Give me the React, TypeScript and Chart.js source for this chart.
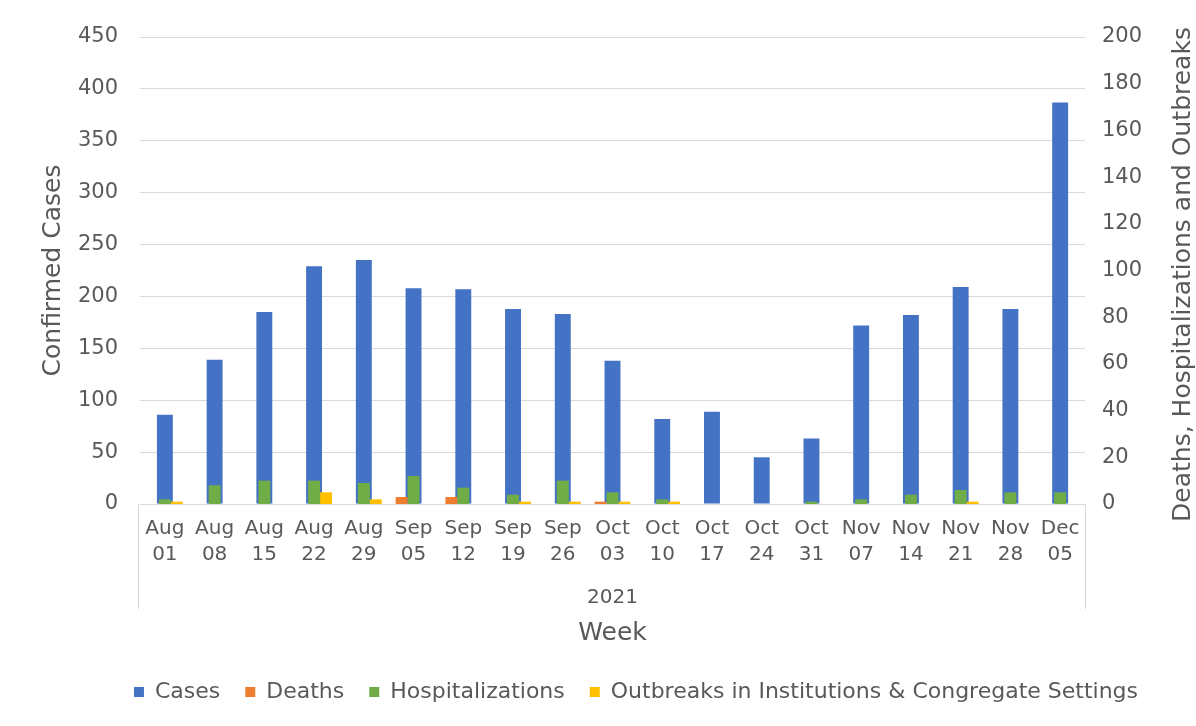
import React, { useEffect, useRef } from "react";
import { Chart, registerables } from "chart.js";

Chart.register(...registerables);

const weeks: string[][] = [
  ["Aug", "01"], ["Aug", "08"], ["Aug", "15"], ["Aug", "22"], ["Aug", "29"],
  ["Sep", "05"], ["Sep", "12"], ["Sep", "19"], ["Sep", "26"],
  ["Oct", "03"], ["Oct", "10"], ["Oct", "17"], ["Oct", "24"], ["Oct", "31"],
  ["Nov", "07"], ["Nov", "14"], ["Nov", "21"], ["Nov", "28"], ["Dec", "05"],
];
const cases = [86, 139, 185, 229, 235, 208, 207, 188, 183, 138, 82, 89, 45, 63, 172, 182, 209, 188, 387];
const deaths = [0, 0, 0, 0, 0, 3, 3, 0, 0, 1, 0, 0, 0, 0, 0, 0, 0, 0, 0];
const hospitalizations = [2, 8, 10, 10, 9, 12, 7, 4, 10, 5, 2, 0, 0, 1, 2, 4, 6, 5, 5];
const outbreaks = [1, 0, 0, 5, 2, 0, 0, 1, 1, 1, 1, 0, 0, 0, 0, 0, 1, 0, 0];

const seriesNames = ["Cases", "Deaths", "Hospitalizations", "Outbreaks in Institutions & Congregate Settings"];
const seriesColors = ["#4472C4", "#ED7D31", "#70AD47", "#FFC000"];
const yearLabel = "2021";
const xTitle = "Week";
const yLeftTitle = "Confirmed Cases";
const yRightTitle = "Deaths, Hospitalizations and Outbreaks";

const FONT = "'DejaVu Sans', 'Liberation Sans', sans-serif";
const TEXT = "#595959";
const GRID = "#d9d9d9";

const decorPlugin = {
  id: "decor",
  afterLayout(chart: any) {
    const lg = chart.legend;
    if (lg) {
      lg.left += 38;
      lg.right += 38;
    }
  },
  afterDraw(chart: any) {
    const { ctx, chartArea } = chart;
    ctx.save();
    ctx.strokeStyle = GRID;
    ctx.lineWidth = 1;
    [chartArea.left - 1.5, chartArea.right + 0.5].forEach((x: number) => {
      const px = Math.round(x - 0.5) + 0.5;
      ctx.beginPath();
      ctx.moveTo(px, chartArea.bottom);
      ctx.lineTo(px, chartArea.bottom + 105);
      ctx.stroke();
    });
    ctx.fillStyle = TEXT;
    ctx.textAlign = "center";
    ctx.textBaseline = "middle";
    ctx.font = `20px ${FONT}`;
    ctx.fillText(yearLabel, (chartArea.left + chartArea.right) / 2, chartArea.bottom + 94);
    ctx.translate(1183, (chartArea.top + chartArea.bottom) / 2 + 4);
    ctx.rotate(-Math.PI / 2);
    ctx.font = `25px ${FONT}`;
    ctx.fillText(yRightTitle, 0, 0);
    ctx.restore();
  },
};

export default function App() {
  const ref = useRef<HTMLCanvasElement | null>(null);

  useEffect(() => {
    if (!ref.current) return;
    const small = { yAxisID: "y1", categoryPercentage: 0.72, barPercentage: 1, order: 0 };
    const chart = new Chart(ref.current, {
      type: "bar",
      data: {
        labels: weeks,
        datasets: [
          {
            label: seriesNames[0],
            data: cases,
            backgroundColor: seriesColors[0],
            yAxisID: "y",
            grouped: false,
            categoryPercentage: 1,
            barPercentage: 0.32,
            order: 5,
          },
          { ...small, label: seriesNames[1], data: deaths, backgroundColor: seriesColors[1] },
          { ...small, label: seriesNames[2], data: hospitalizations, backgroundColor: seriesColors[2] },
          { ...small, label: seriesNames[3], data: outbreaks, backgroundColor: seriesColors[3] },
        ],
      } as any,
      options: {
        animation: false,
        responsive: true,
        maintainAspectRatio: false,
        layout: { padding: { top: 37, left: 0, right: 0, bottom: 13 } },
        plugins: {
          tooltip: { enabled: false },
          legend: {
            position: "bottom",
            labels: {
              boxWidth: 10,
              boxHeight: 10,
              padding: 25,
              color: TEXT,
              font: { family: FONT, size: 22 },
              sort: (a: any, b: any) => a.datasetIndex - b.datasetIndex,
            },
          },
        },
        scales: {
          x: {
            type: "category",
            offset: true,
            grid: { display: false },
            border: { display: false },
            ticks: {
              autoSkip: false,
              maxRotation: 0,
              minRotation: 0,
              color: TEXT,
              padding: 4,
              font: { family: FONT, size: 20, lineHeight: 1.3 },
            },
            title: {
              display: true,
              text: xTitle,
              color: TEXT,
              font: { family: FONT, size: 25 },
              padding: { top: 0, bottom: 8 },
            },
            afterFit: (s: any) => {
              s.height = 152;
            },
          },
          y: {
            position: "left",
            min: 0,
            max: 450,
            ticks: { stepSize: 50, padding: 22, color: TEXT, font: { family: FONT, size: 21 } },
            grid: { color: GRID, drawTicks: false },
            border: { display: false },
            title: {
              display: true,
              text: yLeftTitle,
              color: TEXT,
              font: { family: FONT, size: 25 },
              padding: { top: 38, bottom: 0 },
            },
            afterFit: (s: any) => {
              s.width = 140;
            },
          },
          y1: {
            position: "right",
            min: 0,
            max: 200,
            ticks: { stepSize: 20, padding: 17, color: TEXT, font: { family: FONT, size: 21 } },
            grid: { display: false, drawTicks: false },
            border: { display: false },
            afterFit: (s: any) => {
              s.width = 111;
            },
          },
        },
      } as any,
      plugins: [decorPlugin],
    });
    return () => chart.destroy();
  }, []);

  return (
    <div style={{ position: "fixed", left: 0, top: 0, width: 1196, height: 726, background: "#ffffff" }}>
      <canvas ref={ref} />
    </div>
  );
}
